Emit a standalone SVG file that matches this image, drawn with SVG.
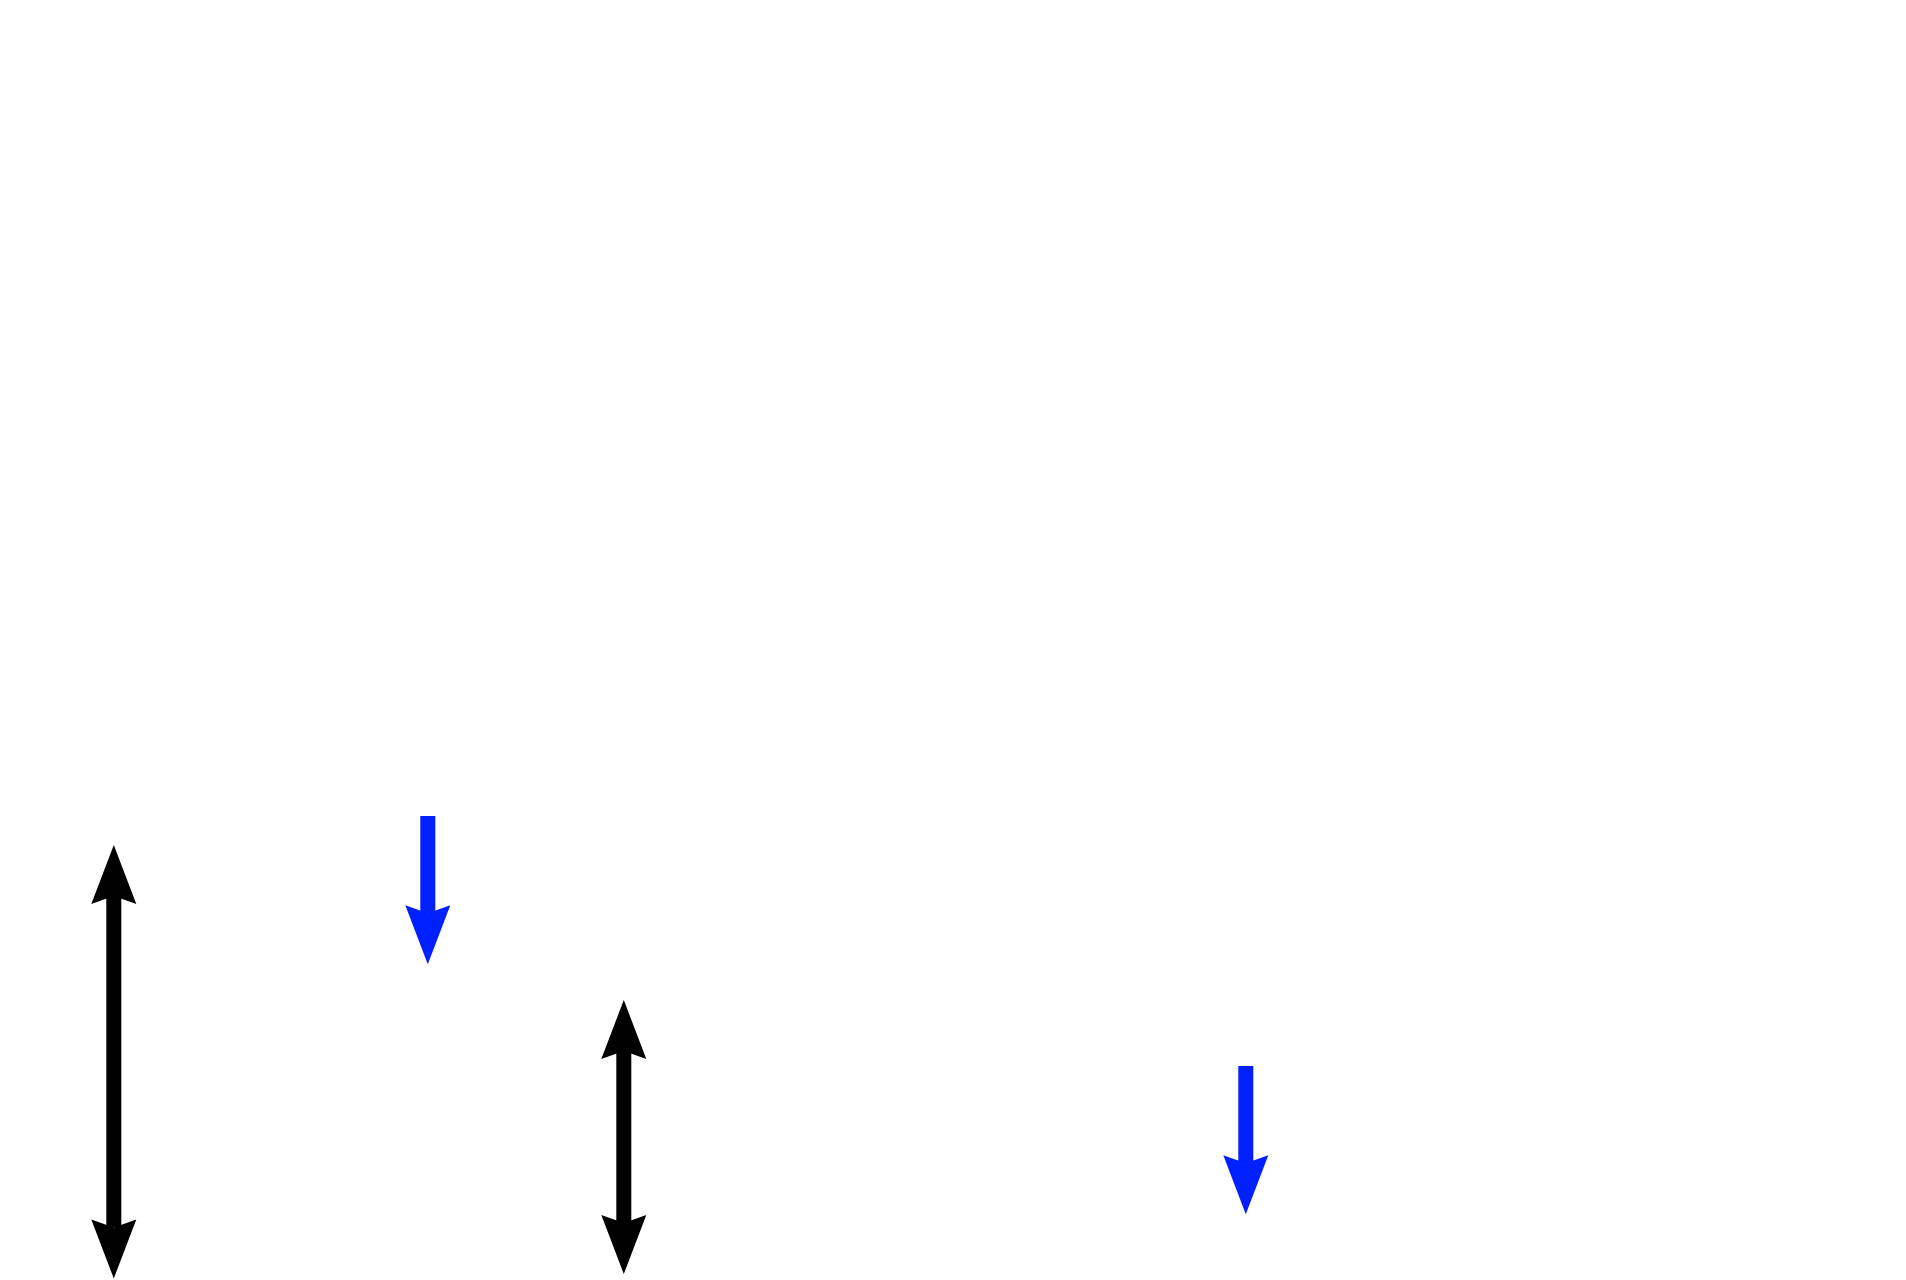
<svg xmlns="http://www.w3.org/2000/svg" width="1906" height="1280" viewBox="0 0 1906 1280">
<style>
.blk{stroke:#000;stroke-width:15;fill:none;stroke-linecap:butt}
.blu{stroke:#0020ff;stroke-width:15;fill:none;stroke-linecap:butt}
</style>
<defs>
<marker id="hb" markerUnits="userSpaceOnUse" markerWidth="120" markerHeight="120" refX="0" refY="0" orient="auto-start-reverse" overflow="visible" viewBox="-60 -60 120 120">
<path d="M51,0 L-8,-22.5 L0,0 L-8,22.5 Z" fill="#000"/>
</marker>
<marker id="hu" markerUnits="userSpaceOnUse" markerWidth="120" markerHeight="120" refX="0" refY="0" orient="auto" overflow="visible" viewBox="-60 -60 120 120">
<path d="M51,0 L-8,-22.5 L0,0 L-8,22.5 Z" fill="#0020ff"/>
</marker>
</defs>
<rect width="1906" height="1280" fill="#fff"/>
<g id="connectors">
<path class="blk" d="M113.8,896 L113.8,1227.5" marker-start="url(#hb)" marker-end="url(#hb)"/>
<path class="blu" d="M427.8,816 L427.8,913.3" marker-end="url(#hu)"/>
<path class="blk" d="M623.8,1051 L623.8,1223" marker-start="url(#hb)" marker-end="url(#hb)"/>
<path class="blu" d="M1245.8,1066 L1245.8,1163.3" marker-end="url(#hu)"/>
</g>
</svg>
